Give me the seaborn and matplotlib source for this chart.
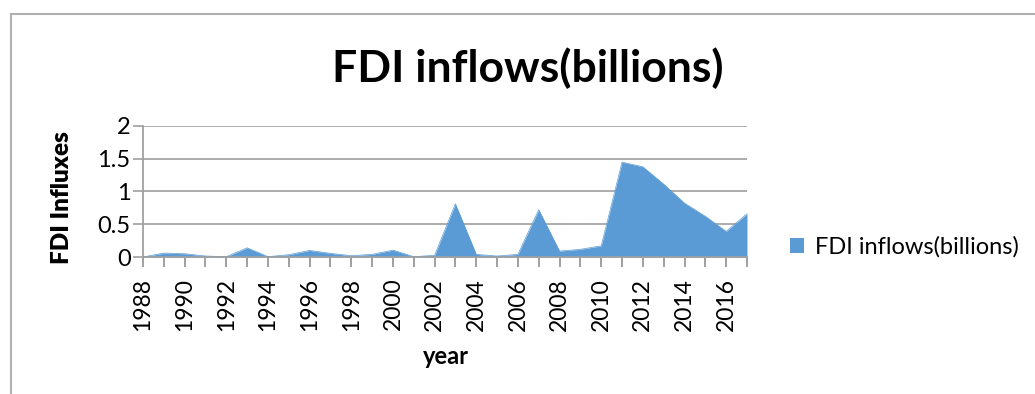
import numpy as np
import pandas as pd
import seaborn as sns
import matplotlib
matplotlib.use("Agg")
import matplotlib.pyplot as plt
from matplotlib.patches import Patch, Rectangle

years = list(range(1988, 2018))
fdi = [0.0, 0.06, 0.05, 0.015, 0.005, 0.14, 0.005, 0.035, 0.10, 0.055,
       0.02, 0.04, 0.105, 0.005, 0.025, 0.81, 0.04, 0.015, 0.04, 0.72,
       0.09, 0.117, 0.17, 1.445, 1.374, 1.11, 0.82, 0.62, 0.39, 0.66]
series_name = "FDI inflows(billions)"
y_ticks = [0, 0.5, 1, 1.5, 2]
y_tick_labels = ["0", "0.5", "1", "1.5", "2"]

df = pd.DataFrame({"idx": np.arange(len(years)), "year": years, "value": fdi})

sns.set_theme(style="white")
plt.rcParams['font.family'] = ['Lato', 'DejaVu Sans']
plt.rcParams['text.color'] = 'black'
plt.rcParams['axes.labelcolor'] = 'black'
plt.rcParams['xtick.color'] = 'black'
plt.rcParams['ytick.color'] = 'black'

fig = plt.figure(figsize=(10.35, 3.94), dpi=100)
ax = fig.add_axes([143/1035, 1-257/394, (747-143)/1035, (257-125.7)/394])

color = "#5B9BD5"
sns.lineplot(data=df, x="idx", y="value", ax=ax, color=color, linewidth=0.5)
ax.fill_between(df["idx"], 0, df["value"], color=color, linewidth=0, zorder=2)

ax.set_xlim(0, len(years) - 1)
ax.set_ylim(0, 2)
ax.set_yticks(y_ticks)
ax.set_yticklabels(y_tick_labels, fontsize=17)
ax.set_xticks(np.arange(len(years)))
ax.set_xticklabels([str(y) if i % 2 == 0 else "" for i, y in enumerate(years)],
                   rotation=90, fontsize=16.5)
ax.tick_params(axis="x", length=7, width=1.2, color="#909090", direction="out", pad=8, bottom=True)
ax.tick_params(axis="y", length=7, width=1.2, color="#a0a0a0", direction="out", pad=2, left=True)
ax.grid(axis="y", color="#a6a6a6", linewidth=1.3, zorder=0)
ax.set_axisbelow(True)
for s in ["top", "right"]:
    ax.spines[s].set_visible(False)
ax.spines["left"].set_color("#a0a0a0")
ax.spines["left"].set_linewidth(1.3)
ax.spines["bottom"].set_color("#a0a0a0")
ax.spines["bottom"].set_linewidth(1.3)

ax.set_xlabel("year", fontsize=17, fontweight="bold")
ax.set_ylabel("FDI Influxes", fontsize=17.5, fontweight="heavy")
ax.xaxis.set_label_coords((446-143)/604, -(357-257)/131.3)
ax.yaxis.set_label_coords(-(143-62)/604, (257-198)/131.3)
ax.xaxis.label.set_va("center")
ax.yaxis.label.set_va("center")

fig.text(528/1035, 1-68/394, series_name, ha="center", va="center",
         fontsize=32, fontweight="bold")

fig.legend(handles=[Patch(facecolor=color, edgecolor="none", label=series_name)],
           loc="center left", bbox_to_anchor=(790/1035, 1-247/394), frameon=False,
           borderpad=0, borderaxespad=0,
           fontsize=17, handlelength=0.6, handleheight=0.6, handletextpad=0.45)

fig.patches.append(Rectangle((10.5/1035, -0.1), 1.2, 1-14.5/394+0.1, transform=fig.transFigure,
                             fill=False, edgecolor="#b0b0b0", linewidth=1.5))

fig.savefig("out.png", dpi=100)
